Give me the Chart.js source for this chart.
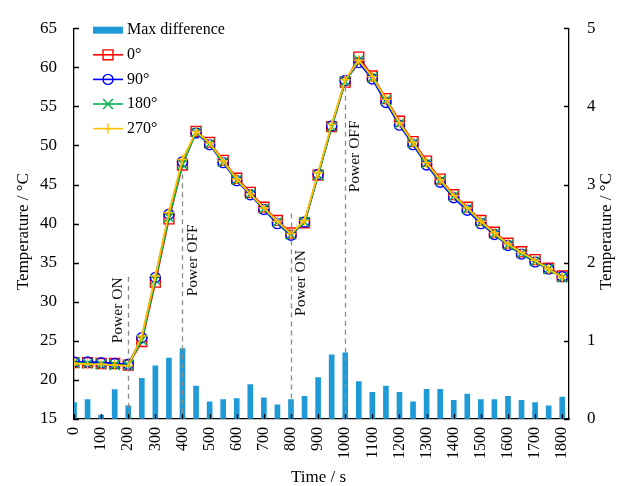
<!DOCTYPE html>
<html>
<head>
<meta charset="utf-8">
<script src="https://cdn.jsdelivr.net/npm/chart.js@4/dist/chart.umd.min.js"></script>
<style>
  html, body { margin: 0; padding: 0; background: #fff; }
  #wrap { width: 617px; height: 486px; position: relative; }
</style>
</head>
<body>
<div id="wrap"><canvas id="c"></canvas></div>
<script>
// Sampling times (s)
const TIMES = [0, 50, 100, 150, 200, 250, 300, 350, 400, 450, 500, 550, 600, 650, 700, 750, 800, 850, 900,
  950, 1000, 1050, 1100, 1150, 1200, 1250, 1300, 1350, 1400, 1450, 1500, 1550, 1600, 1650, 1700, 1750, 1800];

// Temperature (°C) at each orientation
const T_0 = [22.2, 22.2, 22.1, 22.1, 21.9, 24.9, 32.5, 40.6, 47.5, 51.8, 50.4, 48.1, 45.8, 44.0, 42.1, 40.4, 38.8, 40.1, 46.2,
  52.4, 58.1, 61.3, 58.9, 56.0, 53.1, 50.5, 48.0, 45.7, 43.7, 42.1, 40.4, 38.9, 37.5, 36.4, 35.4, 34.3, 33.3];
const T_90 = [22.3, 22.3, 22.2, 22.1, 22.0, 25.4, 33.1, 41.2, 47.9, 51.6, 50.1, 47.8, 45.5, 43.7, 41.8, 40.0, 38.5, 40.2, 46.3,
  52.5, 58.3, 60.6, 58.5, 55.5, 52.6, 50.1, 47.5, 45.3, 43.3, 41.7, 40.0, 38.6, 37.2, 36.1, 35.1, 34.2, 33.2];
const T_180 = [22.2, 22.1, 22.0, 21.9, 21.9, 25.1, 32.8, 40.8, 47.6, 51.7, 50.2, 47.9, 45.6, 43.8, 41.9, 40.2, 38.6, 40.2, 46.2,
  52.4, 58.2, 60.9, 58.7, 55.8, 52.8, 50.3, 47.7, 45.5, 43.5, 41.9, 40.2, 38.7, 37.3, 36.2, 35.2, 34.2, 33.1];
const T_270 = [22.1, 22.0, 22.0, 21.9, 21.8, 25.6, 33.3, 41.4, 48.2, 51.8, 50.3, 48.0, 45.7, 43.8, 42.0, 40.3, 38.7, 40.4, 46.5,
  52.7, 58.4, 60.9, 58.8, 55.9, 52.9, 50.4, 47.8, 45.6, 43.6, 42.0, 40.3, 38.8, 37.4, 36.3, 35.3, 34.2, 33.1];

// Maximum temperature difference between orientations (°C), right axis
const MAX_DIFF = [0.21, 0.25, 0.05, 0.375, 0.17, 0.52, 0.68, 0.78, 0.90, 0.42, 0.22, 0.25, 0.26, 0.44, 0.27, 0.18, 0.25, 0.29, 0.53,
  0.82, 0.845, 0.48, 0.34, 0.42, 0.34, 0.22, 0.38, 0.38, 0.24, 0.32, 0.25, 0.25, 0.29, 0.24, 0.21, 0.17, 0.28];

// Power switching events: time (s), label, temperature where the marker line ends, label centre temperature, side
const EVENT_TIMES = [200, 400, 800, 1000];
const EVENT_LABELS = ['Power ON', 'Power OFF', 'Power ON', 'Power OFF'];
const EVENT_LINE_TOP = [33.2, 46.3, 41.3, 57.5];
const EVENT_LABEL_AT = [28.9, 35.3, 32.4, 48.6];
const EVENT_SIDE = [-1, 1, 1, 1];

const LEFT_TICKS = [15, 20, 25, 30, 35, 40, 45, 50, 55, 60, 65];
const RIGHT_TICKS = [0, 1, 2, 3, 4, 5];

const SERIF = '"Liberation Serif", "Times New Roman", serif';
const BAR_COLOR = '#1E9BD7';

const pts = arr => arr.map((v, i) => ({ x: TIMES[i], y: v }));

function lineSet(label, data, color, style, radius, order) {
  return {
    type: 'line', label, data: pts(data), yAxisID: 'y', order,
    borderColor: color, borderWidth: 1.8, backgroundColor: 'rgba(0,0,0,0)',
    pointStyle: style, pointRadius: radius, pointHoverRadius: radius,
    pointBorderColor: color, pointBackgroundColor: 'rgba(0,0,0,0)', pointBorderWidth: 1.4,
    tension: 0, fill: false
  };
}

// Inward tick marks, event markers, legend and axis titles
const decor = {
  id: 'decor',
  afterDatasetsDraw(chart) {
    const { ctx, chartArea: a, scales } = chart;
    const x = scales.x, y = scales.y, y2 = scales.y2;
    ctx.save();
    // event lines
    ctx.strokeStyle = '#8c8c8c';
    ctx.lineWidth = 1.3;
    ctx.setLineDash([5, 4]);
    EVENT_TIMES.forEach((t, i) => {
      const px = Math.round(x.getPixelForValue(t)) + 0.5;
      ctx.beginPath();
      ctx.moveTo(px, y.getPixelForValue(EVENT_LINE_TOP[i]));
      ctx.lineTo(px, a.bottom);
      ctx.stroke();
    });
    ctx.setLineDash([]);
    ctx.fillStyle = '#111';
    ctx.font = '15.5px ' + SERIF;
    ctx.textAlign = 'center';
    ctx.textBaseline = 'middle';
    EVENT_TIMES.forEach((t, i) => {
      const px = x.getPixelForValue(t) + EVENT_SIDE[i] * 10;
      const py = y.getPixelForValue(EVENT_LABEL_AT[i]);
      ctx.save();
      ctx.translate(px, py);
      ctx.rotate(-Math.PI / 2);
      ctx.fillText(EVENT_LABELS[i], 0, 0);
      ctx.restore();
    });
    // inward tick marks
    ctx.strokeStyle = '#000';
    ctx.lineWidth = 1.3;
    const tl = 5;
    ctx.beginPath();
    x.ticks.forEach(tk => {
      const px = Math.round(x.getPixelForValue(tk.value)) + 0.5;
      ctx.moveTo(px, a.bottom); ctx.lineTo(px, a.bottom - tl);
    });
    LEFT_TICKS.forEach(v => {
      const py = Math.round(y.getPixelForValue(v)) + 0.5;
      ctx.moveTo(a.left, py); ctx.lineTo(a.left + tl, py);
    });
    RIGHT_TICKS.forEach(v => {
      const py = Math.round(y2.getPixelForValue(v)) + 0.5;
      ctx.moveTo(a.right, py); ctx.lineTo(a.right - tl, py);
    });
    ctx.stroke();

    // legend
    const lx = a.left + 19, lw = 30, tx = lx + lw + 4;
    let ly = a.top + 2;
    const rowH = 24.6;
    ctx.font = '16px ' + SERIF;
    ctx.textAlign = 'left';
    ctx.textBaseline = 'middle';
    chart.data.datasets.forEach((ds, i) => {
      const cy = ly + i * rowH;
      if (ds.type === 'bar') {
        ctx.fillStyle = ds.backgroundColor;
        ctx.fillRect(lx, cy - 3.5, lw, 7);
      } else {
        ctx.strokeStyle = ds.borderColor;
        ctx.lineWidth = 1.6;
        ctx.beginPath();
        ctx.moveTo(lx, cy); ctx.lineTo(lx + lw, cy);
        ctx.stroke();
        ctx.fillStyle = 'rgba(0,0,0,0)';
        ctx.lineWidth = 1.4;
        Chart.helpers.drawPoint(ctx, { pointStyle: ds.pointStyle, radius: ds.pointRadius, rotation: 0, borderWidth: 1.4 }, lx + lw / 2, cy);
      }
      ctx.fillStyle = '#000';
      ctx.fillText(ds.label, tx, cy);
    });

    // axis titles
    ctx.font = '17px ' + SERIF;
    ctx.fillStyle = '#000';
    ctx.textAlign = 'center';
    ctx.fillText('Time / s', (a.left + a.right) / 2 - 3, a.bottom + 59);
    const midY = (a.top + a.bottom) / 2 + 8;
    ctx.save();
    ctx.translate(24, midY);
    ctx.rotate(-Math.PI / 2);
    ctx.fillText('Temperature / \u00B0C', 0, 0);
    ctx.restore();
    ctx.save();
    ctx.translate(chart.width - 10, midY);
    ctx.rotate(-Math.PI / 2);
    ctx.fillText('Temperature / \u00B0C', 0, 0);
    ctx.restore();
    ctx.restore();
  }
};

new Chart(document.getElementById('c'), {
  type: 'bar',
  data: {
    datasets: [
      { type: 'bar', label: 'Max difference', data: pts(MAX_DIFF), yAxisID: 'y2', order: 10,
        backgroundColor: BAR_COLOR, borderWidth: 0, barThickness: 5 },
      lineSet('0\u00B0', T_0, '#FF0000', 'rect', 7, 4),
      lineSet('90\u00B0', T_90, '#0000FF', 'circle', 5, 3),
      lineSet('180\u00B0', T_180, '#00B050', 'crossRot', 7, 2),
      lineSet('270\u00B0', T_270, '#FFC000', 'cross', 5, 1)
    ]
  },
  options: {
    responsive: true,
    maintainAspectRatio: false,
    animation: false,
    devicePixelRatio: 1,
    layout: { padding: { top: 19, left: 0, right: 0, bottom: 0 } },
    plugins: { legend: { display: false }, tooltip: { enabled: false } },
    scales: {
      x: {
        type: 'linear', min: 0, max: 1825, offset: false,
        afterFit(s) { s.height = 67; },
        grid: { display: true, drawOnChartArea: false, drawTicks: false },
        border: { display: true, color: '#000', width: 1.3 },
        ticks: { stepSize: 100, includeBounds: false, autoSkip: false, minRotation: 90, maxRotation: 90,
          padding: 8, color: '#000', font: { family: SERIF, size: 16 },
          callback: v => String(v) }
      },
      y: {
        position: 'left', min: 15, max: 65,
        afterFit(s) { s.width = 74; },
        grid: { display: true, drawOnChartArea: false, drawTicks: false },
        border: { display: true, color: '#000', width: 1.3 },
        ticks: { stepSize: 5, padding: 17, color: '#000', font: { family: SERIF, size: 17 } }
      },
      y2: {
        position: 'right', min: 0, max: 5,
        afterFit(s) { s.width = 48; },
        grid: { display: true, drawOnChartArea: false, drawTicks: false },
        border: { display: true, color: '#000', width: 1.3 },
        ticks: { stepSize: 1, padding: 18, color: '#000', font: { family: SERIF, size: 17 } }
      }
    }
  },
  plugins: [decor]
});
</script>
</body>
</html>
